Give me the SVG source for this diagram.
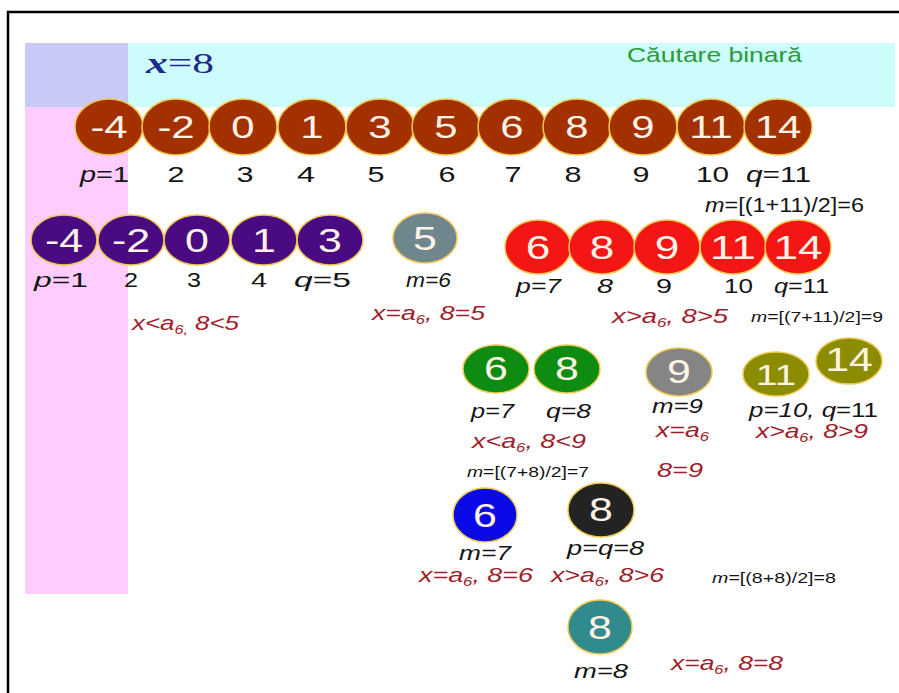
<svg xmlns="http://www.w3.org/2000/svg" width="899" height="693" viewBox="0 0 899 693">
<defs>
<style>
.bg{stroke:none}
.n ellipse{stroke:#EEC850;stroke-width:1.5}
.d{font-family:"Liberation Sans",Arial,sans-serif;fill:#FFF3E6;text-anchor:middle}
.lb{font-family:"Liberation Sans",Arial,sans-serif;fill:#151515;font-size:21px}
.r{font-family:"Liberation Sans",Arial,sans-serif;fill:#A01E2C;font-size:21px;font-style:italic}
.s{font-family:"Liberation Sans",Arial,sans-serif;fill:#151515;font-size:15px}
.i{font-style:italic}
.sub{font-size:13px}
.brown{fill:#A33100}
.purple{fill:#4A0A82}
.red{fill:#F41515}
.green{fill:#0E8C12}
.olive{fill:#8C8C00}
</style>
</defs>
<rect width="899" height="693" fill="#FFFFFF"/>
<g id="background">
<rect class="bg" x="25" y="43" width="103" height="64" fill="#C9C9F7"/>
<rect class="bg" x="128" y="43" width="767" height="64" fill="#CCFCFB"/>
<rect class="bg" x="25" y="107" width="103" height="487" fill="#FFCCFF"/>
<path d="M8,693 V12 H899" fill="none" stroke="#000" stroke-width="2.5"/>
</g>
<g id="titles">
<text x="146" y="73" textLength="68" lengthAdjust="spacingAndGlyphs" font-family="Liberation Serif,serif" font-size="30" fill="#1C2A8C"><tspan font-weight="bold" font-style="italic">x</tspan>=8</text>
<text x="627" y="62" textLength="175" lengthAdjust="spacingAndGlyphs" font-family="Liberation Sans,sans-serif" font-size="21" fill="#2A9A3A">Căutare binară</text>
</g>
<!-- Row 1 -->
<g id="row1">
<g id="r1n1" class="n"><ellipse class="brown" cx="109" cy="127" rx="34" ry="28"/><text class="d" font-size="31" transform="translate(109 138) scale(1.35 1)">-4</text></g>
<g id="r1n2" class="n"><ellipse class="brown" cx="176" cy="127" rx="34" ry="28"/><text class="d" font-size="31" transform="translate(176 138) scale(1.35 1)">-2</text></g>
<g id="r1n3" class="n"><ellipse class="brown" cx="243" cy="127" rx="34" ry="28"/><text class="d" font-size="31" transform="translate(243 138) scale(1.35 1)">0</text></g>
<g id="r1n4" class="n"><ellipse class="brown" cx="312" cy="127" rx="34" ry="28"/><text class="d" font-size="31" transform="translate(312 138) scale(1.35 1)">1</text></g>
<g id="r1n5" class="n"><ellipse class="brown" cx="380" cy="127" rx="34" ry="28"/><text class="d" font-size="31" transform="translate(380 138) scale(1.35 1)">3</text></g>
<g id="r1n6" class="n"><ellipse class="brown" cx="446" cy="127" rx="34" ry="28"/><text class="d" font-size="31" transform="translate(446 138) scale(1.35 1)">5</text></g>
<g id="r1n7" class="n"><ellipse class="brown" cx="512" cy="127" rx="34" ry="28"/><text class="d" font-size="31" transform="translate(512 138) scale(1.35 1)">6</text></g>
<g id="r1n8" class="n"><ellipse class="brown" cx="577" cy="127" rx="34" ry="28"/><text class="d" font-size="31" transform="translate(577 138) scale(1.35 1)">8</text></g>
<g id="r1n9" class="n"><ellipse class="brown" cx="643" cy="127" rx="34" ry="28"/><text class="d" font-size="31" transform="translate(643 138) scale(1.35 1)">9</text></g>
<g id="r1n10" class="n"><ellipse class="brown" cx="711" cy="127" rx="34" ry="28"/><text class="d" font-size="31" transform="translate(711 138) scale(1.35 1)">11</text></g>
<g id="r1n11" class="n"><ellipse class="brown" cx="778" cy="127" rx="34" ry="28"/><text class="d" font-size="31" transform="translate(778 138) scale(1.35 1)">14</text></g>
</g>
<g id="row1-labels" class="lb" style="font-size:22px">
<text x="80" y="182" textLength="49" lengthAdjust="spacingAndGlyphs"><tspan class="i">p</tspan>=1</text>
<text x="167.5" y="182" textLength="17" lengthAdjust="spacingAndGlyphs">2</text>
<text x="236.5" y="182" textLength="17" lengthAdjust="spacingAndGlyphs">3</text>
<text x="297" y="182" textLength="18" lengthAdjust="spacingAndGlyphs">4</text>
<text x="367.5" y="182" textLength="17" lengthAdjust="spacingAndGlyphs">5</text>
<text x="438.5" y="182" textLength="17" lengthAdjust="spacingAndGlyphs">6</text>
<text x="504.5" y="182" textLength="17" lengthAdjust="spacingAndGlyphs">7</text>
<text x="564.5" y="182" textLength="17" lengthAdjust="spacingAndGlyphs">8</text>
<text x="632.5" y="182" textLength="17" lengthAdjust="spacingAndGlyphs">9</text>
<text x="696" y="182" textLength="33" lengthAdjust="spacingAndGlyphs">10</text>
<text x="746" y="182" textLength="65" lengthAdjust="spacingAndGlyphs"><tspan class="i">q</tspan>=11</text>
</g>
<text class="lb" x="705" y="212" textLength="159" lengthAdjust="spacingAndGlyphs" style="font-size:20px"><tspan class="i">m</tspan>=[(1+11)/2]=6</text>
<!-- Row 2 -->
<g id="row2">
<g id="r2n1" class="n"><ellipse class="purple" cx="64" cy="240" rx="33" ry="25"/><text class="d" font-size="33" transform="translate(64 252) scale(1.3 1)">-4</text></g>
<g id="r2n2" class="n"><ellipse class="purple" cx="131" cy="240" rx="33" ry="25"/><text class="d" font-size="33" transform="translate(131 252) scale(1.3 1)">-2</text></g>
<g id="r2n3" class="n"><ellipse class="purple" cx="197" cy="240" rx="33" ry="25"/><text class="d" font-size="33" transform="translate(197 252) scale(1.3 1)">0</text></g>
<g id="r2n4" class="n"><ellipse class="purple" cx="264" cy="240" rx="33" ry="25"/><text class="d" font-size="33" transform="translate(264 252) scale(1.3 1)">1</text></g>
<g id="r2n5" class="n"><ellipse class="purple" cx="330" cy="240" rx="33" ry="25"/><text class="d" font-size="33" transform="translate(330 252) scale(1.3 1)">3</text></g>
<g id="mid5" class="n"><ellipse fill="#6E868C" cx="425" cy="238" rx="32" ry="25"/><text class="d" font-size="33" transform="translate(425 250) scale(1.3 1)">5</text></g>
<g id="r2n6" class="n"><ellipse class="red" cx="538" cy="247" rx="33" ry="27"/><text class="d" font-size="34" transform="translate(538 259) scale(1.3 1)">6</text></g>
<g id="r2n7" class="n"><ellipse class="red" cx="602" cy="247" rx="33" ry="27"/><text class="d" font-size="34" transform="translate(602 259) scale(1.3 1)">8</text></g>
<g id="r2n8" class="n"><ellipse class="red" cx="667" cy="247" rx="33" ry="27"/><text class="d" font-size="34" transform="translate(667 259) scale(1.3 1)">9</text></g>
<g id="r2n9" class="n"><ellipse class="red" cx="733" cy="247" rx="33" ry="27"/><text class="d" font-size="34" transform="translate(733 259) scale(1.3 1)">11</text></g>
<g id="r2n10" class="n"><ellipse class="red" cx="798" cy="247" rx="33" ry="27"/><text class="d" font-size="34" transform="translate(798 259) scale(1.3 1)">14</text></g>
</g>
<g id="row2-labels">
<text class="lb" x="34" y="287" textLength="54" lengthAdjust="spacingAndGlyphs"><tspan class="i">p</tspan>=1</text>
<text class="lb" x="124" y="287" textLength="14" lengthAdjust="spacingAndGlyphs">2</text>
<text class="lb" x="187" y="287" textLength="14" lengthAdjust="spacingAndGlyphs">3</text>
<text class="lb" x="251" y="287" textLength="16" lengthAdjust="spacingAndGlyphs">4</text>
<text class="lb" x="294" y="287" textLength="57" lengthAdjust="spacingAndGlyphs"><tspan class="i">q</tspan>=5</text>
<text class="r" x="132" y="330" textLength="107" lengthAdjust="spacingAndGlyphs">x&lt;a<tspan class="sub" dy="4">6,</tspan><tspan dy="-4"> 8&lt;5</tspan></text>
<text class="lb i" x="406" y="287" textLength="45" lengthAdjust="spacingAndGlyphs">m=6</text>
<text class="r" x="372" y="320" textLength="113" lengthAdjust="spacingAndGlyphs">x=a<tspan class="sub" dy="4">6</tspan><tspan dy="-4">, 8=5</tspan></text>
<text class="lb i" x="516" y="293" textLength="45" lengthAdjust="spacingAndGlyphs">p=7</text>
<text class="lb i" x="597" y="293" textLength="16" lengthAdjust="spacingAndGlyphs">8</text>
<text class="lb" x="656" y="293" textLength="16" lengthAdjust="spacingAndGlyphs">9</text>
<text class="lb" x="724" y="293" textLength="29" lengthAdjust="spacingAndGlyphs">10</text>
<text class="lb" x="774" y="293" textLength="55" lengthAdjust="spacingAndGlyphs"><tspan class="i">q</tspan>=11</text>
<text class="r" x="612" y="323" textLength="116" lengthAdjust="spacingAndGlyphs">x&gt;a<tspan class="sub" dy="4">6</tspan><tspan dy="-4">, 8&gt;5</tspan></text>
<text class="s" x="751" y="322" textLength="132" lengthAdjust="spacingAndGlyphs"><tspan class="i">m</tspan>=[(7+11)/2]=9</text>
</g>
<!-- Row 3 -->
<g id="row3">
<g id="r3n1" class="n"><ellipse class="green" cx="496" cy="369" rx="33" ry="24"/><text class="d" font-size="33" transform="translate(496 380) scale(1.3 1)">6</text></g>
<g id="r3n2" class="n"><ellipse class="green" cx="567" cy="369" rx="33" ry="24"/><text class="d" font-size="33" transform="translate(567 380) scale(1.3 1)">8</text></g>
<g id="r3n3" class="n"><ellipse fill="#858585" cx="679" cy="372" rx="33" ry="24"/><text class="d" font-size="33" transform="translate(679 383) scale(1.3 1)">9</text></g>
<g id="r3n4" class="n"><ellipse class="olive" cx="776" cy="374" rx="33" ry="22"/><text class="d" font-size="30" transform="translate(776 385) scale(1.3 1)">11</text></g>
<g id="r3n5" class="n"><ellipse class="olive" cx="849" cy="361" rx="33" ry="23"/><text class="d" font-size="33" transform="translate(849 371) scale(1.3 1)">14</text></g>
</g>
<g id="row3-labels">
<text class="lb i" x="471" y="418" textLength="43" lengthAdjust="spacingAndGlyphs">p=7</text>
<text class="lb i" x="546" y="418" textLength="45" lengthAdjust="spacingAndGlyphs">q=8</text>
<text class="lb i" x="652" y="413" textLength="51" lengthAdjust="spacingAndGlyphs">m=9</text>
<text class="lb" x="749" y="417" textLength="129" lengthAdjust="spacingAndGlyphs"><tspan class="i">p=10, q</tspan>=11</text>
<text class="r" x="472" y="448" textLength="114" lengthAdjust="spacingAndGlyphs">x&lt;a<tspan class="sub" dy="4">6</tspan><tspan dy="-4">, 8&lt;9</tspan></text>
<text class="r" x="656" y="437" textLength="53" lengthAdjust="spacingAndGlyphs">x=a<tspan class="sub" dy="4">6</tspan></text>
<text class="r" x="756" y="438" textLength="112" lengthAdjust="spacingAndGlyphs">x&gt;a<tspan class="sub" dy="4">6</tspan><tspan dy="-4">, 8&gt;9</tspan></text>
<text class="s" x="467" y="477" textLength="122" lengthAdjust="spacingAndGlyphs"><tspan class="i">m</tspan>=[(7+8)/2]=7</text>
<text class="r" x="657" y="477" textLength="46" lengthAdjust="spacingAndGlyphs">8=9</text>
</g>
<!-- Row 4 -->
<g id="row4">
<g id="r4n1" class="n"><ellipse fill="#0A0AE6" cx="485" cy="515" rx="32" ry="27"/><text class="d" font-size="33" transform="translate(485 527) scale(1.3 1)">6</text></g>
<g id="r4n2" class="n"><ellipse fill="#232323" cx="601" cy="510" rx="33" ry="27"/><text class="d" font-size="33" transform="translate(601 521) scale(1.3 1)">8</text></g>
<g id="r5n1" class="n"><ellipse fill="#318B8D" cx="600" cy="627" rx="32" ry="27"/><text class="d" font-size="33" transform="translate(600 639) scale(1.3 1)">8</text></g>
</g>
<g id="row4-labels">
<text class="lb i" x="459" y="560" textLength="52" lengthAdjust="spacingAndGlyphs">m=7</text>
<text class="lb i" x="567" y="555" textLength="77" lengthAdjust="spacingAndGlyphs">p=q=8</text>
<text class="r" x="419" y="582" textLength="114" lengthAdjust="spacingAndGlyphs">x=a<tspan class="sub" dy="4">6</tspan><tspan dy="-4">, 8=6</tspan></text>
<text class="r" x="551" y="582" textLength="113" lengthAdjust="spacingAndGlyphs">x&gt;a<tspan class="sub" dy="4">6</tspan><tspan dy="-4">, 8&gt;6</tspan></text>
<text class="s" x="712" y="583" textLength="124" lengthAdjust="spacingAndGlyphs"><tspan class="i">m</tspan>=[(8+8)/2]=8</text>
<text class="lb i" x="574" y="678" textLength="54" lengthAdjust="spacingAndGlyphs">m=8</text>
<text class="r" x="671" y="670" textLength="112" lengthAdjust="spacingAndGlyphs">x=a<tspan class="sub" dy="4">6</tspan><tspan dy="-4">, 8=8</tspan></text>
</g>
<g id="connectors"/>
</svg>
